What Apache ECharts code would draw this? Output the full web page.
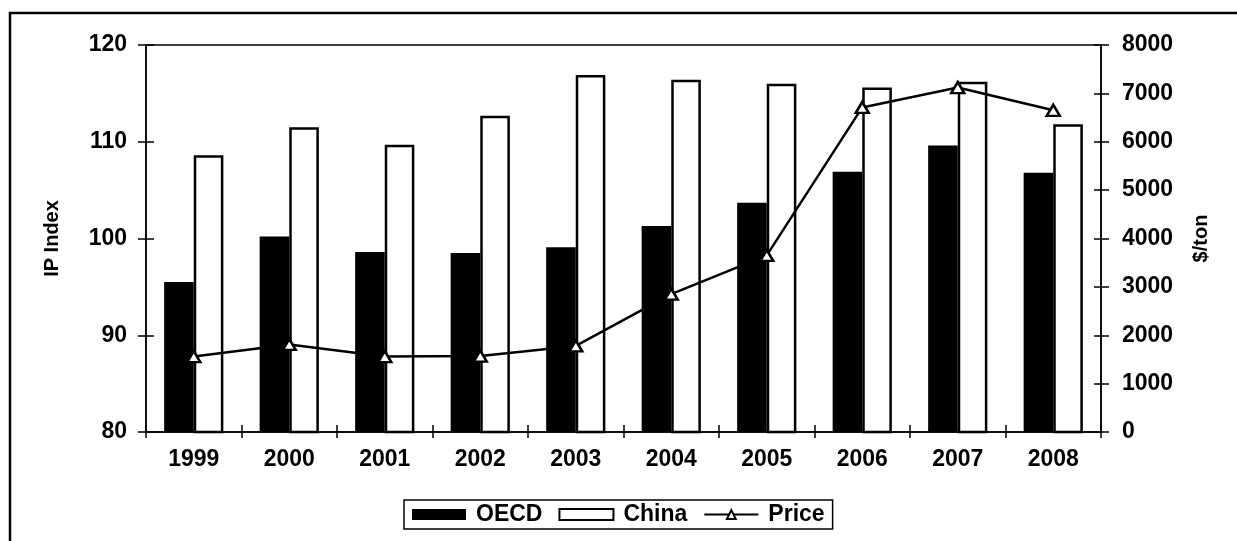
<!DOCTYPE html>
<html><head><meta charset="utf-8">
<script src="https://cdn.jsdelivr.net/npm/echarts@6/dist/echarts.min.js"></script>
<style>html,body{margin:0;padding:0;background:#fff}#c{width:1237px;height:541px}</style>
</head><body><div id="c"></div>
<script>
const years = ['1999','2000','2001','2002','2003','2004','2005','2006','2007','2008'];
const oecd  = [95.5, 100.2, 98.6, 98.5, 99.1, 101.3, 103.7, 106.9, 109.6, 106.8];
const china = [108.6, 111.5, 109.7, 112.7, 116.9, 116.4, 116.0, 115.6, 116.2, 111.8];
const price = [1560, 1810, 1560, 1570, 1780, 2850, 3650, 6710, 7120, 6650];
const leftAxisName = 'IP Index';
const rightAxisName = '$/ton';
const leftMin = 80, leftMax = 120, leftStep = 10;
const rightMin = 0, rightMax = 8000, rightStep = 1000;

const FONT = 'Liberation Sans';
const chart = echarts.init(document.getElementById('c'), null, {renderer: 'canvas'});
const tickStyle = {color: '#000', width: 1.5};
const lbl = {fontFamily: FONT, fontSize: 23, fontWeight: 'bold', color: '#000'};
chart.setOption({
  backgroundColor: '#fff',
  animation: false,
  textStyle: {fontFamily: FONT, color: '#000'},
  graphic: [{
    type: 'rect', silent: true,
    shape: {x: 10, y: 13, width: 1400, height: 700},
    style: {fill: 'none', stroke: '#000', lineWidth: 2.5}
  }],
  grid: {left: 146, top: 45, right: 136, bottom: 109, show: true,
         borderColor: '#000', borderWidth: 1.5, backgroundColor: 'transparent'},
  legend: {
    left: 404, top: 500,
    padding: [3, 8, 3, 8],
    itemGap: 16, itemWidth: 54, itemHeight: 11,
    borderColor: '#000', borderWidth: 1.5,
    textStyle: Object.assign({}, lbl, {fontSize: 23, padding: [0, 0, 0, 5]}),
    data: [{name: 'OECD', icon: 'rect'}, {name: 'China', icon: 'rect'}, {name: 'Price'}]
  },
  xAxis: [{
    type: 'category', data: years, position: 'bottom',
    axisLine: {lineStyle: {color: '#000', width: 1.5}},
    axisTick: {show: true, alignWithLabel: false, length: 6, lineStyle: tickStyle},
    axisLabel: Object.assign({margin: 16}, lbl)
  }, {
    type: 'category', data: years, position: 'bottom',
    axisLine: {show: false},
    axisTick: {show: true, inside: true, length: 7, lineStyle: tickStyle},
    axisLabel: {show: false}
  }],
  yAxis: [{
    type: 'value', min: leftMin, max: leftMax, interval: leftStep, position: 'left',
    name: leftAxisName, nameLocation: 'middle', nameGap: 84, nameRotate: 90,
    nameTextStyle: {fontFamily: FONT, fontSize: 20, fontWeight: 'bold', color: '#000'},
    axisLine: {show: true, lineStyle: {color: '#000', width: 1.5}},
    axisTick: {show: true, length: 8, lineStyle: tickStyle},
    axisLabel: Object.assign({margin: 19}, lbl),
    splitLine: {show: false}
  }, {
    type: 'value', min: rightMin, max: rightMax, interval: rightStep, position: 'right',
    name: rightAxisName, nameLocation: 'middle', nameGap: 90, nameRotate: 90,
    nameTextStyle: {fontFamily: FONT, fontSize: 20, fontWeight: 'bold', color: '#000'},
    axisLine: {show: true, lineStyle: {color: '#000', width: 1.5}},
    axisTick: {show: true, length: 8, lineStyle: tickStyle},
    axisLabel: Object.assign({margin: 21, formatter: v => String(v)}, lbl),
    splitLine: {show: false}
  }, {
    type: 'value', min: leftMin, max: leftMax, interval: leftStep, position: 'left',
    axisLine: {show: false}, axisTick: {show: true, inside: true, length: 8, lineStyle: tickStyle},
    axisLabel: {show: false}, splitLine: {show: false}
  }, {
    type: 'value', min: rightMin, max: rightMax, interval: rightStep, position: 'right',
    axisLine: {show: false}, axisTick: {show: true, inside: true, length: 7, lineStyle: tickStyle},
    axisLabel: {show: false}, splitLine: {show: false}
  }],
  series: [{
    name: 'OECD', type: 'bar', data: oecd, xAxisIndex: 0, yAxisIndex: 0,
    barGap: '0%', barCategoryGap: '38%',
    itemStyle: {color: '#000', borderColor: '#000', borderWidth: 0}
  }, {
    name: 'China', type: 'bar', data: china, xAxisIndex: 0, yAxisIndex: 0,
    barGap: '0%', barCategoryGap: '38%',
    itemStyle: {color: '#fff', borderColor: '#000', borderWidth: 2.5}
  }, {
    name: 'Price', type: 'line', data: price, xAxisIndex: 0, yAxisIndex: 1, z: 5,
    symbol: 'triangle', symbolSize: [13, 11], showSymbol: true,
    lineStyle: {color: '#000', width: 2.5},
    itemStyle: {color: '#fff', borderColor: '#000', borderWidth: 2.5}
  }]
});
</script></body></html>
